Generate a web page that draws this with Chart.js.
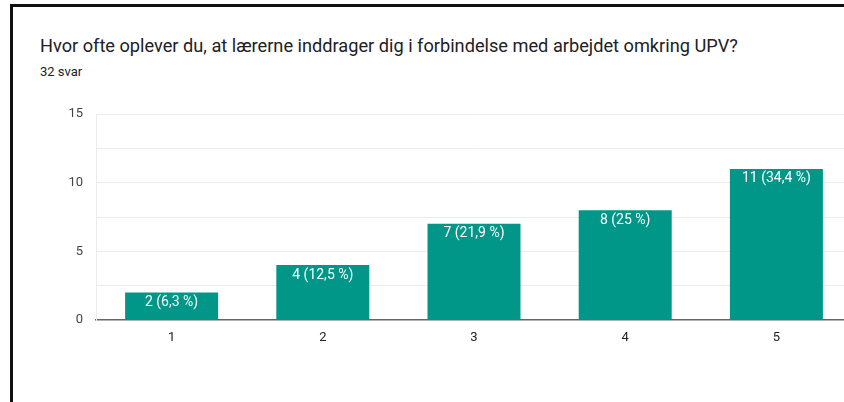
<!DOCTYPE html>
<html>
<head>
<meta charset="utf-8">
<script src="https://cdn.jsdelivr.net/npm/chart.js@4"></script>
<style>
  html, body { margin: 0; padding: 0; background: #fff; overflow: hidden; width: 844px; height: 402px; }
  #frame { position: absolute; left: 10px; top: 4px; width: 900px; height: 500px; border-left: 3px solid #111; border-top: 3px solid #111; box-sizing: border-box; }
  #title { position: absolute; left: 40px; top: 35px; font-family: Roboto, sans-serif; font-size: 18.2px; color: #202124; white-space: nowrap; }
  #sub { position: absolute; left: 40px; top: 64px; font-family: Roboto, sans-serif; font-size: 13px; color: #202124; }
  #wrap { position: absolute; left: 0; top: 0; width: 860px; height: 402px; }
</style>
</head>
<body>
<div id="frame"></div>
<div id="title">Hvor ofte oplever du, at lærerne inddrager dig i forbindelse med arbejdet omkring UPV?</div>
<div id="sub">32 svar</div>
<div id="wrap"><canvas id="c"></canvas></div>
<script>
const categories = ["1", "2", "3", "4", "5"];
const counts = [2, 4, 7, 8, 11];
const percentLabels = ["6,3", "12,5", "21,9", "25", "34,4"];
const yTicks = [0, 5, 10, 15];

const barLabels = {
  id: 'barLabels',
  afterDatasetsDraw(chart) {
    const ctx = chart.ctx;
    const meta = chart.getDatasetMeta(0);
    ctx.save();
    ctx.fillStyle = '#ffffff';
    ctx.font = '14px Roboto, sans-serif';
    ctx.textAlign = 'center';
    ctx.textBaseline = 'middle';
    meta.data.forEach((bar, i) => {
      ctx.fillText(counts[i] + ' (' + percentLabels[i] + ' %)', bar.x, bar.y + 10);
    });
    ctx.restore();
  }
};

new Chart(document.getElementById('c'), {
  type: 'bar',
  data: {
    labels: categories,
    datasets: [{
      data: counts,
      backgroundColor: '#009688',
      borderWidth: 0,
      categoryPercentage: 1,
      barPercentage: 0.615
    }]
  },
  options: {
    responsive: true,
    maintainAspectRatio: false,
    animation: false,
    events: [],
    layout: { padding: { left: 0, top: 114, right: 8, bottom: 42 } },
    plugins: { legend: { display: false }, tooltip: { enabled: false } },
    scales: {
      x: {
        grid: { display: false, drawTicks: false },
        border: { display: true, color: '#666', width: 1.5 },
        ticks: { color: '#222', font: { family: 'Roboto', size: 13 }, padding: 10 },
        afterFit(s) { s.height = 40; }
      },
      y: {
        min: 0, max: 15,
        grid: {
          drawTicks: false,
          color: (c) => (c.tick && c.tick.value === 0) ? 'rgba(0,0,0,0)' : '#ececec',
          lineWidth: 1
        },
        border: { display: true, color: '#ececec', width: 1 },
        ticks: {
          stepSize: 2.5,
          color: '#444',
          font: { family: 'Roboto', size: 13 },
          padding: 13,
          callback: (v) => yTicks.includes(v) ? String(v) : ''
        },
        afterFit(s) { s.width = 96; }
      }
    }
  },
  plugins: [barLabels]
});
</script>
</body>
</html>
